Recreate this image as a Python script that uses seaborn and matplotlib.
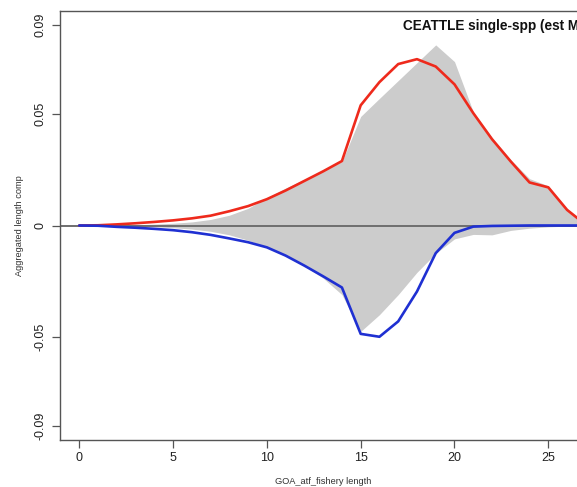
import numpy as np
import pandas as pd
import matplotlib
matplotlib.use("Agg")
import matplotlib.pyplot as plt
import seaborn as sns

# Length bins
length_bin = list(range(0, 28))

# Observed composition (upper = first group, lower = second group, mirrored below zero)
obs_upper = [0, 0, 0.0001, 0.0003, 0.0006, 0.0010, 0.0016, 0.0027, 0.0046, 0.0077,
             0.0125, 0.0168, 0.0207, 0.0247, 0.0286, 0.0489, 0.0570, 0.0650, 0.0730,
             0.0810, 0.0735, 0.0510, 0.0395, 0.0295, 0.0210, 0.0178, 0.0075, 0.0010]
obs_lower = [0, 0, -0.0001, -0.0003, -0.0006, -0.0010, -0.0016, -0.0026, -0.0042,
             -0.0066, -0.0097, -0.0137, -0.0182, -0.0236, -0.0310, -0.0475, -0.0400,
             -0.0310, -0.0210, -0.0125, -0.0060, -0.0040, -0.0042, -0.0022, -0.0012,
             -0.0006, -0.0003, 0]

# Model estimates
est_upper = [0, 0.0001, 0.0005, 0.0010, 0.0016, 0.0023, 0.0032, 0.0044, 0.0064, 0.0087,
             0.0118, 0.0157, 0.0200, 0.0243, 0.0289, 0.0539, 0.0643, 0.0724, 0.0746,
             0.0713, 0.0633, 0.0504, 0.0387, 0.0287, 0.0193, 0.0171, 0.0070, 0.0003]
est_lower = [0, -0.0001, -0.0006, -0.0010, -0.0015, -0.0021, -0.0030, -0.0042, -0.0058,
             -0.0075, -0.0098, -0.0135, -0.0180, -0.0228, -0.0278, -0.0486, -0.0499,
             -0.0430, -0.0296, -0.0124, -0.0033, -0.0005, -0.0002, -0.0001, 0, 0, 0, 0]

y_ticks = [-0.09, -0.05, 0, 0.05, 0.09]
y_tick_labels = ["-0.09", "-0.05", "0", "0.05", "0.09"]
x_ticks = [0, 5, 10, 15, 20, 25]

title = "CEATTLE single-spp (est M)"
x_label = "GOA_atf_fishery length"
y_label = "Aggregated length comp"

sns.set_style("white")
plt.rcParams["font.family"] = ["Liberation Sans", "DejaVu Sans"]

df = pd.DataFrame({"length": length_bin, "est_upper": est_upper, "est_lower": est_lower})

W, H = 577, 487
fig = plt.figure(figsize=(W / 100, H / 100), dpi=100)
left_px, right_px, top_px, bottom_px = 59.7, 586.6, 11, 440
ax = fig.add_axes([left_px / W, 1 - bottom_px / H,
                   (right_px - left_px) / W, (bottom_px - top_px) / H])

ax.fill_between(length_bin, obs_lower, obs_upper, color="#cccccc", linewidth=0, zorder=1)
ax.axhline(0, color="#6e6e6e", lw=1.4, zorder=2)
sns.lineplot(data=df, x="length", y="est_upper", ax=ax, color="#ee2a1c", lw=1.9,
             zorder=3, legend=False)
sns.lineplot(data=df, x="length", y="est_lower", ax=ax, color="#1f30d2", lw=1.9,
             zorder=3, legend=False)

ax.set_xlim(-1.04, 27.04)
ax.set_ylim(-0.0962, 0.0962)
ax.set_xticks(x_ticks)
ax.set_yticks(y_ticks)
ax.set_yticklabels(y_tick_labels, rotation=90, va="center")
ax.tick_params(axis="both", bottom=True, left=True, direction="out", length=5.5,
               width=0.9, color="#555555", labelsize=9, labelcolor="#222222", pad=3)
ax.tick_params(axis="y", pad=4)
ax.set_xlabel("")
ax.set_ylabel("")
for s in ax.spines.values():
    s.set_color("#555555")
    s.set_linewidth(1.0)

fig.text(323.2 / W, 1 - 482 / H, x_label, ha="center", va="center", fontsize=6.7,
         color="#333333")
fig.text(20 / W, 1 - 226 / H, y_label, ha="center", va="center", rotation=90,
         fontsize=6.7, color="#333333")
fig.text(403 / W, 1 - 26 / H, title, ha="left", va="center", fontsize=9.8,
         fontweight="bold", color="#111111")

fig.savefig("out.png", dpi=100)
